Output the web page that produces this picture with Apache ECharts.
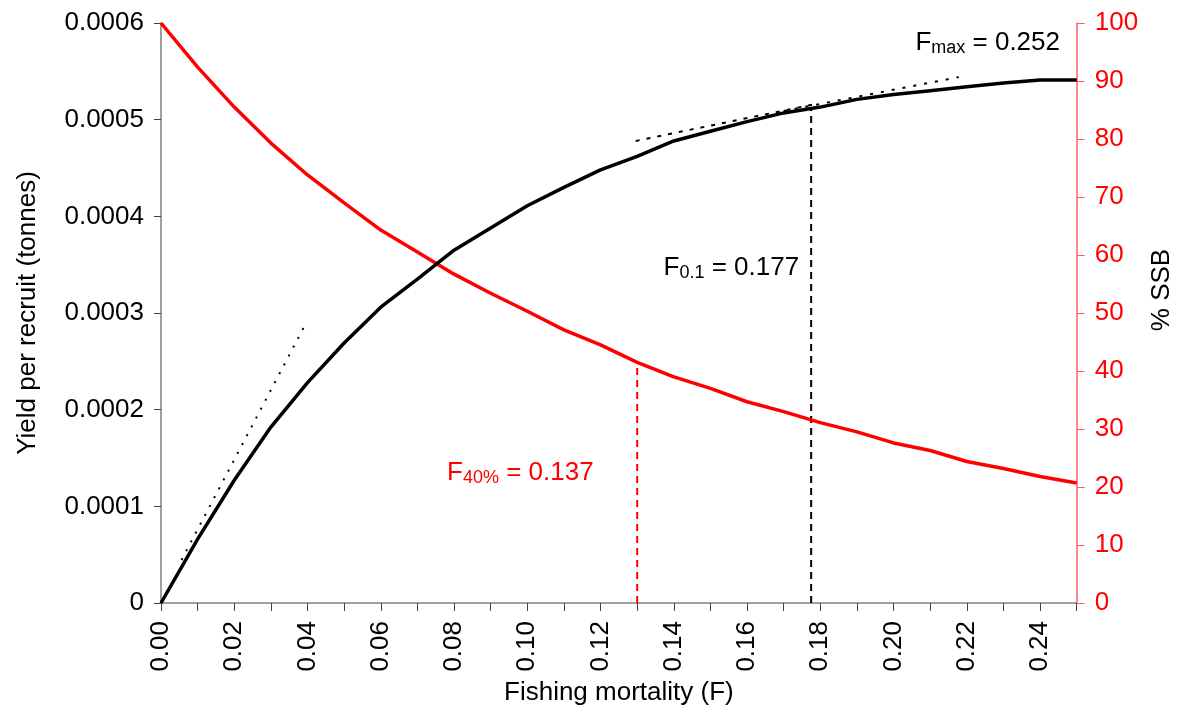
<!DOCTYPE html>
<html>
<head>
<meta charset="utf-8">
<script src="https://cdn.jsdelivr.net/npm/echarts@6.0.0/dist/echarts.min.js"></script>
<style>
  html, body { margin: 0; padding: 0; background: #fff; }
  #main { width: 1183px; height: 713px; }
</style>
</head>
<body>
<div id="main"></div>
<script>
// fishing mortality (x)
var fishingF = [0.00, 0.01, 0.02, 0.03, 0.04, 0.05, 0.06, 0.07, 0.08, 0.09, 0.10, 0.11, 0.12,
  0.13, 0.14, 0.15, 0.16, 0.17, 0.18, 0.19, 0.20, 0.21, 0.22, 0.23, 0.24, 0.25];
// yield per recruit (tonnes), left axis
var yieldPerRecruit = [0, 0.000066, 0.000127, 0.000182, 0.000228, 0.000269, 0.000306, 0.000335,
  0.000365, 0.000388, 0.000411, 0.000430, 0.000448, 0.000462, 0.000478, 0.000488, 0.000498,
  0.000507, 0.000513, 0.000521, 0.000526, 0.000530, 0.000534, 0.000538, 0.000541, 0.000541];
// % SSB, right axis
var ssbPercent = [100, 92.4, 85.5, 79.3, 73.8, 69.0, 64.3, 60.5, 56.7, 53.4, 50.3, 47.1, 44.5,
  41.5, 39.0, 37.0, 34.7, 33.0, 31.1, 29.5, 27.6, 26.3, 24.4, 23.2, 21.8, 20.7];

// reference points
var f01 = [[0.1775, 0], [0.1775, 0.000513]];
var f40 = [[0.13, 0], [0.13, 41.5]];
var tangentOrigin = [[0.0056, 0.0000445], [0.0398, 0.000291]];
var tangentF01 = [[0.1296, 0.000478], [0.1785, 0.000516]];
var tangentFmax = [[0.170, 0.000509], [0.2178, 0.000544]];

// label anchors
var f01Label = [0.1557, 0.000347];
var f40Label = [0.0981, 22.4];
var fmaxLabel = [0.2257, 0.000579];

var FONT = 'Liberation Sans, Arial, sans-serif';

function pairs(xs, ys) {
  var out = [];
  for (var i = 0; i < xs.length; i++) {
    out.push([xs[i], ys[i]]);
  }
  return out;
}

function richLabel(color) {
  return {
    a: { fontSize: 26, color: color, fontFamily: FONT, lineHeight: 28 },
    b: { fontSize: 18, color: color, fontFamily: FONT, lineHeight: 12, verticalAlign: 'bottom' }
  };
}

function textPoint(coord, text, color) {
  return {
    symbol: 'circle',
    symbolSize: 1,
    itemStyle: { color: 'rgba(0,0,0,0)' },
    label: {
      show: true,
      position: 'inside',
      formatter: text,
      rich: richLabel(color)
    },
    data: [{ coord: coord }]
  };
}

var chart = echarts.init(document.getElementById('main'), null, { renderer: 'canvas' });

var option = {
  backgroundColor: '#fff',
  animation: false,
  textStyle: { fontFamily: FONT },
  grid: { left: 161, right: 98, top: 23, bottom: 110 },
  xAxis: {
    type: 'value',
    min: 0,
    max: 0.25,
    interval: 0.01,
    name: 'Fishing mortality (F)',
    nameLocation: 'middle',
    nameGap: 76,
    nameTextStyle: { fontSize: 26, color: '#000', fontFamily: FONT },
    axisLine: { lineStyle: { color: '#808080', width: 1.5 } },
    axisTick: { show: true, length: 8, lineStyle: { color: '#444' } },
    axisLabel: {
      rotate: 90,
      margin: 18,
      fontSize: 26,
      color: '#000',
      fontFamily: FONT,
      formatter: function (v) {
        var k = Math.round(v * 100);
        return k % 2 === 0 ? v.toFixed(2) : '';
      }
    },
    splitLine: { show: false }
  },
  yAxis: [
    {
      type: 'value',
      min: 0,
      max: 0.0006,
      interval: 0.0001,
      name: 'Yield per recruit (tonnes)',
      nameLocation: 'middle',
      nameGap: 120,
      nameTextStyle: { fontSize: 26, color: '#000', fontFamily: FONT },
      axisLine: { show: true, lineStyle: { color: '#808080', width: 1.5 } },
      axisTick: { show: true, length: 7, lineStyle: { color: '#444' } },
      axisLabel: {
        margin: 17,
        fontSize: 26,
        color: '#000',
        fontFamily: FONT,
        formatter: function (v) { return v === 0 ? '0' : v.toFixed(4); }
      },
      splitLine: { show: false }
    },
    {
      type: 'value',
      min: 0,
      max: 100,
      interval: 10,
      position: 'right',
      name: '% SSB',
      nameLocation: 'middle',
      nameGap: 68,
      nameRotate: 90,
      nameTextStyle: { fontSize: 26, color: '#000', fontFamily: FONT, padding: [0, 0, 0, 46] },
      axisLine: { show: true, lineStyle: { color: '#ff6060', width: 1.5 } },
      axisTick: { show: true, length: 8, lineStyle: { color: '#ff6060' } },
      axisLabel: { margin: 18, fontSize: 26, color: '#ff0000', fontFamily: FONT },
      splitLine: { show: false }
    }
  ],
  series: [
    {
      name: 'F0.1 line',
      type: 'line',
      yAxisIndex: 0,
      data: f01,
      symbol: 'none',
      lineStyle: { color: '#000', width: 2, type: [7, 5] },
      markPoint: textPoint(f01Label, '{a|F}{b|0.1}{a| = 0.177}', '#000'),
      z: 1
    },
    {
      name: 'F40 line',
      type: 'line',
      yAxisIndex: 1,
      data: f40,
      symbol: 'none',
      lineStyle: { color: '#ff0000', width: 2, type: [7, 5] },
      markPoint: textPoint(f40Label, '{a|F}{b|40%}{a| = 0.137}', '#ff0000'),
      z: 1
    },
    {
      name: 'tangent origin',
      type: 'line',
      yAxisIndex: 0,
      data: tangentOrigin,
      symbol: 'none',
      lineStyle: { color: '#000', width: 2, type: [2, 8] },
      z: 1
    },
    {
      name: 'tangent F0.1',
      type: 'line',
      yAxisIndex: 0,
      data: tangentF01,
      symbol: 'none',
      lineStyle: { color: '#000', width: 2, type: [4, 7] },
      z: 1
    },
    {
      name: 'tangent Fmax',
      type: 'line',
      yAxisIndex: 0,
      data: tangentFmax,
      symbol: 'none',
      lineStyle: { color: '#000', width: 2, type: [3, 8] },
      markPoint: textPoint(fmaxLabel, '{a|F}{b|max}{a| = 0.252}', '#000'),
      z: 1
    },
    {
      name: '% SSB',
      type: 'line',
      yAxisIndex: 1,
      data: pairs(fishingF, ssbPercent),
      symbol: 'none',
      lineStyle: { color: '#ff0000', width: 3.5 },
      z: 3
    },
    {
      name: 'Yield per recruit',
      type: 'line',
      yAxisIndex: 0,
      data: pairs(fishingF, yieldPerRecruit),
      symbol: 'none',
      lineStyle: { color: '#000', width: 3.5 },
      z: 4
    }
  ]
};

chart.setOption(option);
</script>
</body>
</html>
